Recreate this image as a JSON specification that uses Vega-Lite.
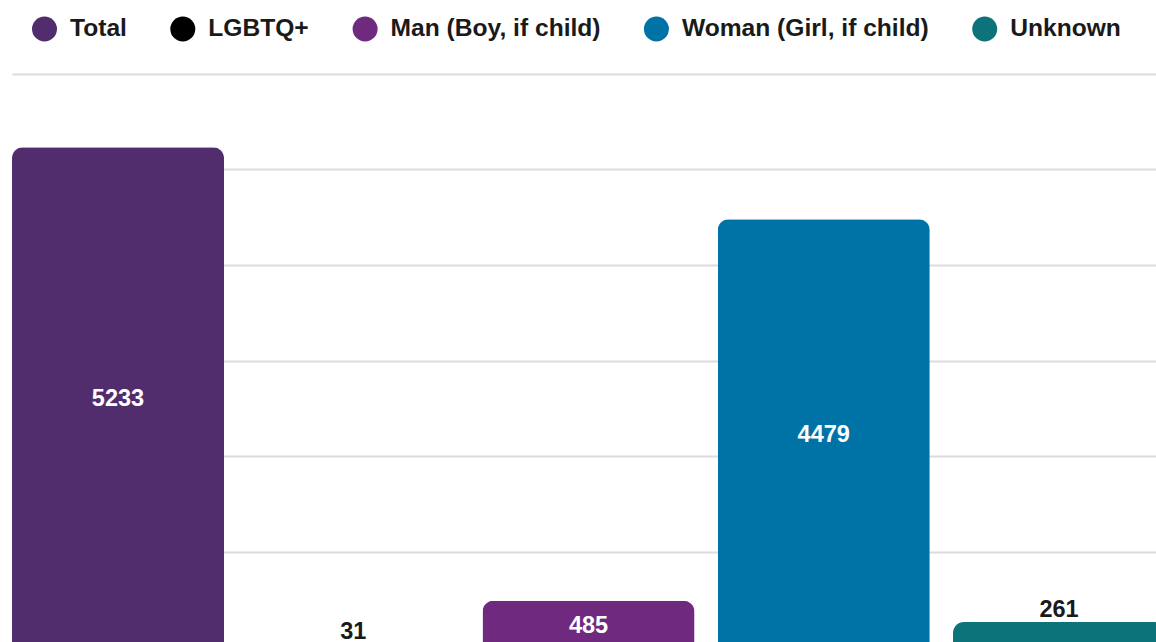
{
  "$schema": "https://vega.github.io/schema/vega-lite/v6.json",
  "autosize": {"type": "none"},
  "padding": {"left": 12, "top": 74, "right": 0, "bottom": 0},
  "width": 1153,
  "height": 573,
  "background": "white",
  "config": {
    "view": {"stroke": null},
    "font": "Liberation Sans"
  },
  "data": {
    "values": [
      {"category": "Total", "value": 5233},
      {"category": "LGBTQ+", "value": 31},
      {"category": "Man (Boy, if child)", "value": 485},
      {"category": "Woman (Girl, if child)", "value": 4479},
      {"category": "Unknown", "value": 261}
    ]
  },
  "encoding": {
    "x": {
      "field": "category",
      "type": "nominal",
      "sort": ["Total", "LGBTQ+", "Man (Boy, if child)", "Woman (Girl, if child)", "Unknown"],
      "scale": {"paddingInner": 0.0988, "paddingOuter": 0},
      "axis": null
    }
  },
  "layer": [
    {
      "mark": {"type": "bar", "cornerRadiusTopLeft": 11, "cornerRadiusTopRight": 11},
      "encoding": {
        "y": {
          "field": "value",
          "type": "quantitative",
          "scale": {"domain": [0, 6000], "nice": false, "zero": true},
          "axis": {
            "values": [0, 1000, 2000, 3000, 4000, 5000, 6000],
            "labels": false,
            "ticks": false,
            "domain": false,
            "title": null,
            "grid": true,
            "gridColor": "#dcdcdc",
            "gridWidth": 2
          }
        },
        "color": {
          "field": "category",
          "type": "nominal",
          "scale": {
            "domain": ["Total", "LGBTQ+", "Man (Boy, if child)", "Woman (Girl, if child)", "Unknown"],
            "range": ["#522d6d", "#000000", "#6f2a80", "#0073a6", "#0b7379"]
          },
          "legend": {
            "orient": "none",
            "direction": "horizontal",
            "legendX": 20,
            "legendY": -57.5,
            "title": null,
            "padding": 0,
            "symbolType": "circle",
            "symbolSize": 625,
            "symbolStrokeWidth": 0,
            "labelFont": "Liberation Sans",
            "labelFontSize": 24.6,
            "labelFontWeight": "bold",
            "labelColor": "#1a1a1a",
            "labelOffset": 13,
            "columnPadding": 43.3,
            "labelLimit": 400
          }
        }
      }
    },
    {
      "transform": [{"filter": "datum.value >= 400"}],
      "mark": {"type": "text", "fontSize": 23.5, "fontWeight": "bold", "color": "white", "baseline": "middle", "align": "center", "dy": 2},
      "encoding": {
        "y": {
          "field": "value",
          "type": "quantitative",
          "scale": {"domain": [0, 12000], "nice": false, "zero": true},
          "axis": null
        },
        "text": {"field": "value", "type": "quantitative"}
      }
    },
    {
      "transform": [{"filter": "datum.value < 400"}],
      "mark": {"type": "text", "fontSize": 23.5, "fontWeight": "bold", "color": "#1a1a1a", "baseline": "middle", "align": "center", "dy": -12},
      "encoding": {
        "y": {
          "field": "value",
          "type": "quantitative",
          "scale": {"domain": [0, 6000], "nice": false, "zero": true},
          "axis": null
        },
        "text": {"field": "value", "type": "quantitative"}
      }
    }
  ],
  "resolve": {"scale": {"y": "independent"}}
}
